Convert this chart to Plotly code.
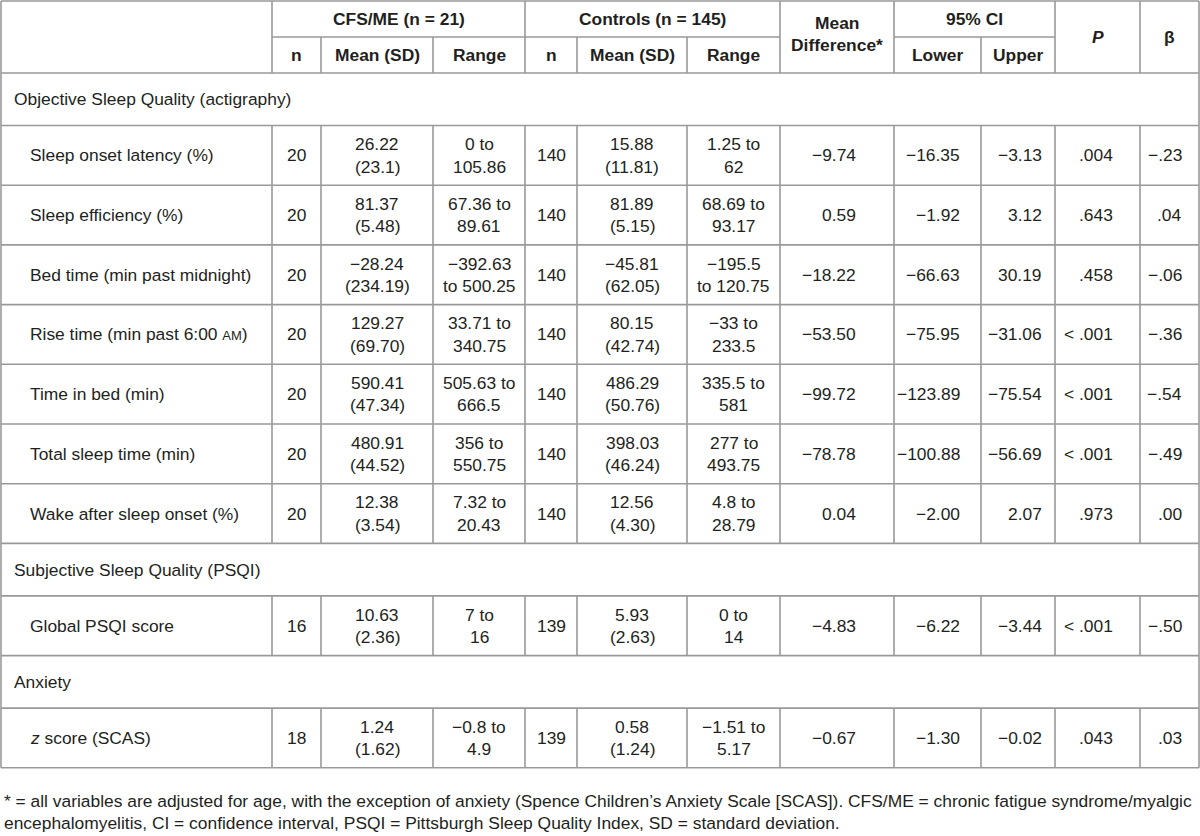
import plotly.graph_objects as go

# ---------------- data ----------------
group_headers = ["CFS/ME (n = 21)", "Controls (n = 145)"]
sub_headers = ["n", "Mean (SD)", "Range", "n", "Mean (SD)", "Range"]
ci_header = "95% CI"
ci_sub_headers = ["Lower", "Upper"]
diff_header = ["Mean", "Difference*"]
p_header = "<b><i>P</i></b>"
beta_header = "<b>β</b>"

sections = ["Objective Sleep Quality (actigraphy)", "Subjective Sleep Quality (PSQI)", "Anxiety"]
section_sizes = [7, 1, 1]

row_labels = [
    "Sleep onset latency (%)",
    "Sleep efficiency (%)",
    "Bed time (min past midnight)",
    "Rise time (min past 6:00 <span style='font-size:13px'>AM</span>)",
    "Time in bed (min)",
    "Total sleep time (min)",
    "Wake after sleep onset (%)",
    "Global PSQI score",
    "<i>z</i> score (SCAS)",
]

cfs_n = ["20", "20", "20", "20", "20", "20", "20", "16", "18"]
cfs_mean = ["26.22", "81.37", "−28.24", "129.27", "590.41", "480.91", "12.38", "10.63", "1.24"]
cfs_sd = ["23.1", "5.48", "234.19", "69.70", "47.34", "44.52", "3.54", "2.36", "1.62"]
cfs_min = ["0", "67.36", "−392.63", "33.71", "505.63", "356", "7.32", "7", "−0.8"]
cfs_max = ["105.86", "89.61", "500.25", "340.75", "666.5", "550.75", "20.43", "16", "4.9"]

ctl_n = ["140", "140", "140", "140", "140", "140", "140", "139", "139"]
ctl_mean = ["15.88", "81.89", "−45.81", "80.15", "486.29", "398.03", "12.56", "5.93", "0.58"]
ctl_sd = ["11.81", "5.15", "62.05", "42.74", "50.76", "46.24", "4.30", "2.63", "1.24"]
ctl_min = ["1.25", "68.69", "−195.5", "−33", "335.5", "277", "4.8", "0", "−1.51"]
ctl_max = ["62", "93.17", "120.75", "233.5", "581", "493.75", "28.79", "14", "5.17"]

mean_diff = ["−9.74", "0.59", "−18.22", "−53.50", "−99.72", "−78.78", "0.04", "−4.83", "−0.67"]
ci_lower = ["−16.35", "−1.92", "−66.63", "−75.95", "−123.89", "−100.88", "−2.00", "−6.22", "−1.30"]
ci_upper = ["−3.13", "3.12", "30.19", "−31.06", "−75.54", "−56.69", "2.07", "−3.44", "−0.02"]
p_values = [".004", ".643", ".458", "< .001", "< .001", "< .001", ".973", "< .001", ".043"]
beta = ["−.23", ".04", "−.06", "−.36", "−.54", "−.49", ".00", "−.50", ".03"]

footnote_lines = [
    "* = all variables are adjusted for age, with the exception of anxiety (Spence Children’s Anxiety Scale [SCAS]). CFS/ME = chronic fatigue syndrome/myalgic",
    "encephalomyelitis, CI = confidence interval, PSQI = Pittsburgh Sleep Quality Index, SD = standard deviation.",
]

# ---------------- layout / style ----------------
W, H = 1200, 836
FONT = "Liberation Sans, Arial, sans-serif"
FS = 17.4
TXT = "#231f20"
LINE = "#999999"
LW = 1.6
LSP = 22.5  # line spacing for two-line cells

X0, X1 = 1, 1199
edges = [X0, 272, 321, 433, 525, 577, 687, 780, 894, 981, 1055, 1140, X1]
hdr_full_edges = {272, 525, 780, 894, 1055, 1140}
Y0, HDR_MID, HDR_BOT = 1, 37, 73
SEC_H, ROW_H = 52.5, 59.7
range_wrap_before_to = {2}
right_pad = {7: 36, 8: 19, 9: 11, 10: 25, 11: 15}  # column index -> right padding

annotations = []
shapes = []


def txt(x, y, s, anchor="center", bold=False, size=FS):
    annotations.append(dict(
        x=x, y=y, xref="x", yref="y", text=("<b>%s</b>" % s) if bold else s,
        showarrow=False, xanchor=anchor, yanchor="middle",
        font=dict(family=FONT, size=size, color=TXT),
    ))


def hline(y, xa=X0, xb=X1):
    shapes.append(dict(type="line", xref="x", yref="y", x0=xa, x1=xb, y0=y, y1=y,
                       line=dict(color=LINE, width=LW)))


def vline(x, ya, yb):
    shapes.append(dict(type="line", xref="x", yref="y", x0=x, x1=x, y0=ya, y1=yb,
                       line=dict(color=LINE, width=LW)))


def cx(c):
    return (edges[c] + edges[c + 1]) / 2


# rows
rows = []
y = HDR_BOT
i = 0
for s, n in zip(sections, section_sizes):
    rows.append(("sec", y, y + SEC_H, s))
    y += SEC_H
    for _ in range(n):
        rows.append(("data", y, y + ROW_H, i))
        y += ROW_H
        i += 1
BOT = y

# ---- grid ----
hline(Y0)
hline(HDR_MID, edges[1], edges[7])
hline(HDR_MID, edges[8], edges[10])
hline(HDR_BOT)
for kind, t, b, _ in rows:
    hline(b)
vline(X0, Y0, BOT)
vline(X1, Y0, BOT)
for e in edges[1:-1]:
    vline(e, Y0 if e in hdr_full_edges else HDR_MID, HDR_BOT)
for kind, t, b, _ in rows:
    if kind == "data":
        for e in edges[1:-1]:
            vline(e, t, b)

# ---- header text ----
h1 = (Y0 + HDR_MID) / 2
h2 = (HDR_MID + HDR_BOT) / 2
hc = (Y0 + HDR_BOT) / 2
txt((edges[1] + edges[4]) / 2, h1, group_headers[0], bold=True)
txt((edges[4] + edges[7]) / 2, h1, group_headers[1], bold=True)
for k, s in enumerate(sub_headers):
    txt(cx(1 + k), h2, s, bold=True)
txt(cx(7), hc - 3 - LSP / 2, diff_header[0], bold=True)
txt(cx(7), hc - 3 + LSP / 2, diff_header[1], bold=True)
txt((edges[8] + edges[10]) / 2, h1, ci_header, bold=True)
txt(cx(8), h2, ci_sub_headers[0], bold=True)
txt(cx(9), h2, ci_sub_headers[1], bold=True)
txt(cx(10), hc, p_header)
txt(cx(11), hc, beta_header)


def two_line(c, yc, a, b):
    txt(cx(c), yc - LSP / 2, a)
    txt(cx(c), yc + LSP / 2, b)


def range_lines(k, lo, hi):
    if k in range_wrap_before_to:
        return lo[k], "to " + hi[k]
    return lo[k] + " to", hi[k]


# ---- body text ----
for kind, t, b, v in rows:
    yc = (t + b) / 2
    if kind == "sec":
        txt(12, yc, v, anchor="left")
        continue
    k = v
    txt(28, yc, row_labels[k], anchor="left")
    txt(cx(1), yc, cfs_n[k])
    two_line(2, yc, cfs_mean[k], "(%s)" % cfs_sd[k])
    two_line(3, yc, *range_lines(k, cfs_min, cfs_max))
    txt(cx(4), yc, ctl_n[k])
    two_line(5, yc, ctl_mean[k], "(%s)" % ctl_sd[k])
    two_line(6, yc, *range_lines(k, ctl_min, ctl_max))
    for c, col in zip([7, 8, 9, 10, 11], [mean_diff, ci_lower, ci_upper, p_values, beta]):
        txt(edges[c + 1] - right_pad[c], yc, col[k], anchor="right")

# ---- footnote ----
for j, s in enumerate(footnote_lines):
    txt(2, BOT + 33 + j * LSP, s, anchor="left")

fig = go.Figure()
fig.add_trace(go.Scatter(x=[X0, X1], y=[Y0, BOT], mode="markers",
                         marker=dict(opacity=0), hoverinfo="skip", showlegend=False))
fig.update_layout(
    width=W, height=H, margin=dict(l=0, r=0, t=0, b=0),
    paper_bgcolor="white", plot_bgcolor="white",
    xaxis=dict(range=[0, W], visible=False, fixedrange=True),
    yaxis=dict(range=[H, 0], visible=False, fixedrange=True),
    shapes=shapes, annotations=annotations, showlegend=False,
)
fig.write_html(
    "out.html",
    config={"displayModeBar": False},
    post_script="document.body.style.margin='0';document.body.style.overflow='hidden';",
)
